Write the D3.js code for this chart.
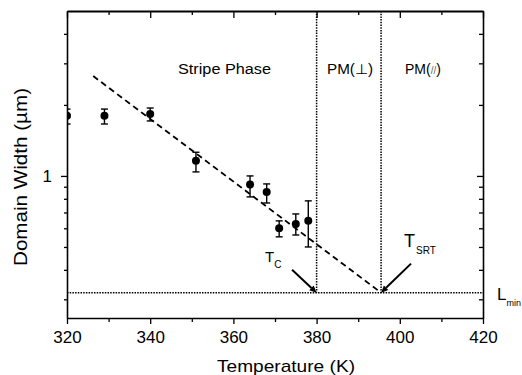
<!DOCTYPE html>
<html>
<head>
<meta charset="utf-8">
<script src="https://cdn.jsdelivr.net/npm/d3@7"></script>
<style>
  body { margin: 0; background: #fff; }
  text { font-family: "Liberation Sans", Arial, Helvetica, sans-serif; fill: #000; }
</style>
</head>
<body>
<script>
var w = 522;
var h = 375;

// data
var temps   = [320, 329, 340, 351, 364, 368, 371, 375, 378];
var widths  = [1.80, 1.80, 1.83, 1.16, 0.92, 0.855, 0.60, 0.625, 0.645];
var errLow  = [1.66, 1.66, 1.71, 1.04, 0.815, 0.768, 0.552, 0.562, 0.50];
var errHigh = [1.92, 1.92, 1.94, 1.26, 1.00, 0.925, 0.645, 0.69, 0.784];

var fitT = [326.3, 395.5];
var fitW = [2.65, 0.32];

var lMin = 0.32;
var tC = 380;
var tSRT = 395.5;

// arrow tails (T, width)
var arrowTails = [[374.1, 0.40], [402.7, 0.425]];
var arrowTips = [tC, tSRT];

var xMajor = [320, 340, 360, 380, 400, 420];
var xMinor = [330, 350, 370, 390, 410];
var yMajor = [1];
var yMinor = [0.3, 0.4, 0.5, 0.6, 0.7, 0.8, 0.9, 2, 3, 4];

var svg = d3.select("body").append("svg")
    .attr("width", w)
    .attr("height", h);

var xScale = d3.scaleLinear().domain([320, 420]).range([67, 483]);
var yScale = d3.scaleLog().domain([0.25, 5]).range([318, 11]);

var defs = svg.append("defs");
defs.append("clipPath").attr("id", "clip")
    .append("rect")
    .attr("x", xScale(320)).attr("y", yScale(5))
    .attr("width", xScale(420) - xScale(320))
    .attr("height", yScale(0.25) - yScale(5));

function styleAxis(g) {
  g.selectAll("path.domain").attr("stroke-width", 1.6);
  g.selectAll("line").attr("stroke-width", 1.3);
}

// bottom
svg.append("g")
   .attr("transform", "translate(0," + yScale(0.25) + ")")
   .call(d3.axisBottom(xScale).tickValues(xMajor).tickSize(6).tickSizeOuter(0).tickPadding(8))
   .call(styleAxis)
   .call(function(g) {
      g.selectAll("text").style("font-size", "17px").attr("y", 13).attr("dy", "0.71em");
   });
svg.append("g")
   .attr("transform", "translate(0," + yScale(0.25) + ")")
   .call(d3.axisBottom(xScale).tickValues(xMinor).tickSize(4).tickFormat(""))
   .call(styleAxis)
   .call(function(g) { g.select(".domain").remove(); });

// top
svg.append("g")
   .attr("transform", "translate(0," + yScale(5) + ")")
   .call(d3.axisTop(xScale).tickValues(xMajor).tickSize(-7).tickSizeOuter(0).tickFormat(""))
   .call(styleAxis)
   .call(function(g) { g.select(".domain").attr("stroke-width", 2.2); });
svg.append("g")
   .attr("transform", "translate(0," + yScale(5) + ")")
   .call(d3.axisTop(xScale).tickValues(xMinor).tickSize(-4).tickFormat(""))
   .call(styleAxis)
   .call(function(g) { g.select(".domain").remove(); });

// left
svg.append("g")
   .attr("transform", "translate(" + xScale(320) + ",0)")
   .call(d3.axisLeft(yScale).tickValues(yMajor).tickSize(6).tickSizeOuter(0).tickPadding(9).tickFormat(d3.format("d")))
   .call(styleAxis)
   .call(function(g) { g.selectAll("text").style("font-size", "17px"); });
svg.append("g")
   .attr("transform", "translate(" + xScale(320) + ",0)")
   .call(d3.axisLeft(yScale).tickValues(yMinor).tickSize(3).tickFormat(""))
   .call(styleAxis)
   .call(function(g) { g.select(".domain").remove(); });

// right
svg.append("g")
   .attr("transform", "translate(" + xScale(420) + ",0)")
   .call(d3.axisRight(yScale).tickValues(yMajor).tickSize(-6).tickSizeOuter(0).tickFormat(""))
   .call(styleAxis);
svg.append("g")
   .attr("transform", "translate(" + xScale(420) + ",0)")
   .call(d3.axisRight(yScale).tickValues(yMinor).tickSize(-4).tickFormat(""))
   .call(styleAxis)
   .call(function(g) { g.select(".domain").remove(); });

var plot = svg.append("g").attr("clip-path", "url(#clip)");

// reference lines
plot.append("line")
    .attr("x1", xScale(320)).attr("x2", xScale(420))
    .attr("y1", yScale(lMin)).attr("y2", yScale(lMin))
    .attr("stroke", "#000").attr("stroke-width", 1.5)
    .attr("stroke-dasharray", "1.5,1.2");

[tC, tSRT].forEach(function(t) {
  plot.append("line")
      .attr("x1", xScale(t)).attr("x2", xScale(t))
      .attr("y1", yScale(5)).attr("y2", yScale(lMin))
      .attr("stroke", "#000").attr("stroke-width", 1.5)
      .attr("stroke-dasharray", "1.5,1.2");
});

// fit line
plot.append("line")
    .attr("x1", xScale(fitT[0])).attr("y1", yScale(fitW[0]))
    .attr("x2", xScale(fitT[1])).attr("y2", yScale(fitW[1]))
    .attr("stroke", "#000").attr("stroke-width", 1.8)
    .attr("stroke-dasharray", "6,4");

// error bars
var pts = temps.map(function(t, i) {
  return { t: t, v: widths[i], lo: errLow[i], hi: errHigh[i] };
});

var eb = plot.selectAll("g.err").data(pts).enter().append("g").attr("class", "err");
eb.append("line")
  .attr("x1", function(d) { return xScale(d.t); })
  .attr("x2", function(d) { return xScale(d.t); })
  .attr("y1", function(d) { return yScale(d.lo); })
  .attr("y2", function(d) { return yScale(d.hi); })
  .attr("stroke", "#000").attr("stroke-width", 1.4);
eb.append("line")
  .attr("x1", function(d) { return xScale(d.t) - 3.5; })
  .attr("x2", function(d) { return xScale(d.t) + 3.5; })
  .attr("y1", function(d) { return yScale(d.lo); })
  .attr("y2", function(d) { return yScale(d.lo); })
  .attr("stroke", "#000").attr("stroke-width", 1.4);
eb.append("line")
  .attr("x1", function(d) { return xScale(d.t) - 3.5; })
  .attr("x2", function(d) { return xScale(d.t) + 3.5; })
  .attr("y1", function(d) { return yScale(d.hi); })
  .attr("y2", function(d) { return yScale(d.hi); })
  .attr("stroke", "#000").attr("stroke-width", 1.4);

plot.selectAll("circle").data(pts).enter().append("circle")
    .attr("cx", function(d) { return xScale(d.t); })
    .attr("cy", function(d) { return yScale(d.v); })
    .attr("r", 4)
    .attr("fill", "#000");

// arrows to Tc and Tsrt, drawn as shaft + filled head
var arrowG = svg.append("g");
arrowTails.forEach(function(tail, i) {
  var x1 = xScale(tail[0]), y1 = yScale(tail[1]);
  var x2 = xScale(arrowTips[i]), y2 = yScale(lMin);
  var dx = x2 - x1, dy = y2 - y1;
  var len = Math.sqrt(dx * dx + dy * dy);
  var ux = dx / len, uy = dy / len;
  var hl = 7, hw = 3.2;
  var bx = x2 - ux * hl, by = y2 - uy * hl;
  arrowG.append("path")
     .attr("d", "M" + x1 + "," + y1 + "L" + bx + "," + by)
     .attr("fill", "none")
     .attr("stroke", "#000").attr("stroke-width", 2);
  arrowG.append("path")
     .attr("d", "M" + x2 + "," + y2 +
                "L" + (bx - uy * hw) + "," + (by + ux * hw) +
                "L" + (bx + uy * hw) + "," + (by - ux * hw) + "Z")
     .attr("fill", "#000");
});

// region labels
svg.append("text")
   .attr("x", 178).attr("y", 74)
   .style("font-size", "14px")
   .attr("textLength", 93).attr("lengthAdjust", "spacingAndGlyphs")
   .text("Stripe Phase");
svg.append("text")
   .attr("x", 327).attr("y", 74)
   .style("font-size", "14px")
   .attr("textLength", 46).attr("lengthAdjust", "spacingAndGlyphs")
   .text("PM(\u22A5)");
var pmPar = svg.append("text")
   .attr("x", 405).attr("y", 74)
   .style("font-size", "14px");
pmPar.append("tspan").text("PM(");
pmPar.append("tspan").style("font-size", "10px").style("fill", "#666").text("//");
pmPar.append("tspan").text(")");

// Tc, Tsrt, Lmin
var tcText = svg.append("text").attr("x", 265).attr("y", 262).style("font-size", "15px");
tcText.append("tspan").text("T");
tcText.append("tspan").attr("dy", 6).style("font-size", "10px").text("C");

var tsText = svg.append("text").attr("x", 404).attr("y", 247).style("font-size", "18px");
tsText.append("tspan").text("T");
tsText.append("tspan").attr("dy", 7).attr("dx", 1).style("font-size", "10px").text("SRT");

var lmText = svg.append("text").attr("x", 497).attr("y", 300).style("font-size", "17px");
lmText.append("tspan").text("L");
lmText.append("tspan").attr("dy", 6).style("font-size", "9px").text("min");

// axis titles
svg.append("text")
   .attr("x", 286).attr("y", 372)
   .style("text-anchor", "middle")
   .style("font-size", "17px")
   .attr("textLength", 138).attr("lengthAdjust", "spacingAndGlyphs")
   .text("Temperature (K)");

svg.append("text")
   .attr("transform", "translate(27,177) rotate(-90)")
   .style("text-anchor", "middle")
   .style("font-size", "18px")
   .attr("textLength", 178).attr("lengthAdjust", "spacingAndGlyphs")
   .text("Domain Width (\u00B5m)");
</script>
</body>
</html>
